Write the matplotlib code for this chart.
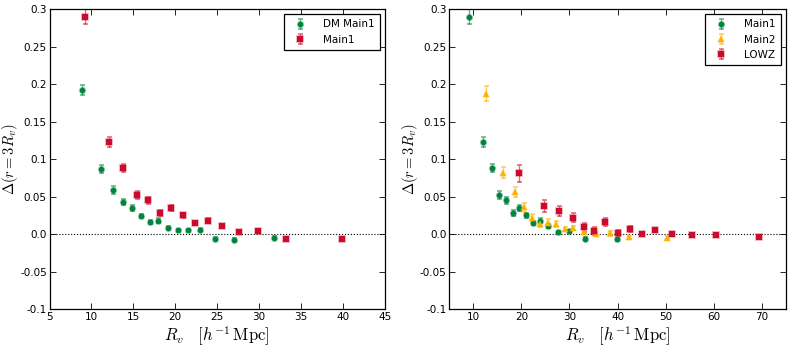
import numpy as np
import matplotlib.pyplot as plt
import matplotlib.colors as mc
from matplotlib.ticker import FixedLocator, FixedFormatter

plt.rcParams["mathtext.fontset"] = "cm"
plt.rcParams["xtick.direction"] = "in"
plt.rcParams["ytick.direction"] = "in"
plt.rcParams["xtick.top"] = True
plt.rcParams["ytick.right"] = True

GREEN = "#00843d"
RED = "#cc0a2c"
ORANGE = "#ffb000"

# left panel: DM Main1
dm_x = [8.9, 11.2, 12.6, 13.8, 14.9, 15.9, 17.0, 18.0, 19.1, 20.3, 21.5, 23.0, 24.8, 27.0, 31.8]
dm_y = [0.192, 0.087, 0.059, 0.043, 0.035, 0.024, 0.016, 0.018, 0.0085, 0.005, 0.005, 0.006, -0.0058, -0.0076, -0.0049]
dm_e = [0.007, 0.005, 0.005, 0.004, 0.004, 0.003, 0.003, 0.003, 0.002, 0.002, 0.002, 0.002, 0.002, 0.002, 0.002]

# Main1 (both panels)
m1_x = [9.2, 12.1, 13.8, 15.4, 16.8, 18.2, 19.5, 20.9, 22.4, 23.9, 25.6, 27.6, 29.9, 33.2, 39.9]
m1_y = [0.290, 0.123, 0.088, 0.052, 0.045, 0.028, 0.035, 0.025, 0.015, 0.018, 0.011, 0.0027, 0.004, -0.0058, -0.0067]
m1_e = [0.010, 0.007, 0.005, 0.005, 0.005, 0.004, 0.004, 0.003, 0.003, 0.003, 0.003, 0.002, 0.002, 0.002, 0.002]

# right panel: Main2
m2_x = [12.7, 16.2, 18.7, 20.5, 22.2, 23.8, 25.5, 27.3, 29.0, 30.8, 33.0, 35.6, 38.5, 42.4, 50.2]
m2_y = [0.187, 0.082, 0.056, 0.036, 0.022, 0.013, 0.015, 0.014, 0.007, 0.008, 0.0036, 0.0004, 0.001, -0.004, -0.0045]
m2_e = [0.010, 0.007, 0.007, 0.006, 0.005, 0.004, 0.005, 0.004, 0.003, 0.003, 0.003, 0.003, 0.003, 0.002, 0.002]

# right panel: LOWZ
lz_x = [19.5, 24.8, 27.8, 30.7, 33.0, 35.2, 37.5, 40.1, 42.6, 45.2, 47.9, 51.4, 55.5, 60.5, 69.5]
lz_y = [0.081, 0.038, 0.031, 0.022, 0.009, 0.0045, 0.0165, 0.001, 0.007, 0.0004, 0.0058, 0.0004, -0.001, -0.0004, -0.004]
lz_e = [0.011, 0.008, 0.007, 0.006, 0.006, 0.005, 0.005, 0.004, 0.004, 0.003, 0.003, 0.003, 0.002, 0.002, 0.002]

yticks = [-0.1, -0.05, 0.0, 0.05, 0.1, 0.15, 0.2, 0.25, 0.3]
ylabels = ["-0.1", "-0.05", "0.0", "0.05", "0.1", "0.15", "0.2", "0.25", "0.3"]


def light(c, a=0.55):
    r, g, b = mc.to_rgb(c)
    return (r, g, b, a)


def draw(ax, x, y, e, clr, mk, lab, ms=4):
    ax.errorbar(x, y, yerr=e, fmt=mk, color=clr, ms=ms, mec=light(clr, 0.35), mew=1.2,
                ecolor=light(clr, 0.6), elinewidth=1.0, capsize=1.8, label=lab)


def style(ax, xlim, xticks):
    ax.axhline(0, color="k", ls=":", lw=0.8)
    ax.set_xlim(xlim)
    ax.set_ylim(-0.1, 0.3)
    ax.xaxis.set_major_locator(FixedLocator(xticks))
    ax.yaxis.set_major_locator(FixedLocator(yticks))
    ax.yaxis.set_major_formatter(FixedFormatter(ylabels))
    ax.tick_params(labelsize=7.5, length=4, width=0.6, pad=2)
    for s in ax.spines.values():
        s.set_linewidth(0.9)
    ax.set_xlabel(r"$R_v\quad[h^{-1}\,\mathrm{Mpc}]$", fontsize=12, labelpad=2)
    ax.set_ylabel(r"$\Delta(r=3R_v)$", fontsize=10.5)
    ax.yaxis.set_label_coords(-0.088, 0.5)
    leg = ax.legend(loc="upper right", numpoints=1, fontsize=7.5, fancybox=False,
                    framealpha=1, edgecolor="k", handletextpad=1.2, borderpad=0.5,
                    labelspacing=0.5)
    leg.get_frame().set_linewidth(0.9)


fig = plt.figure(figsize=[7.9, 3.47], dpi=100)
ax1 = fig.add_axes([0.0627, 0.1086, 0.4243, 0.8654])
ax2 = fig.add_axes([0.5687, 0.1086, 0.4259, 0.8654])

draw(ax1, dm_x, dm_y, dm_e, GREEN, "o", "DM Main1")
draw(ax1, m1_x, m1_y, m1_e, RED, "s", "Main1")
style(ax1, (5, 45), [5, 10, 15, 20, 25, 30, 35, 40, 45])

draw(ax2, m1_x, m1_y, m1_e, GREEN, "o", "Main1")
draw(ax2, m2_x, m2_y, m2_e, ORANGE, "^", "Main2", ms=4.5)
draw(ax2, lz_x, lz_y, lz_e, RED, "s", "LOWZ")
style(ax2, (5, 75), [10, 20, 30, 40, 50, 60, 70])

fig.savefig("out.png", dpi=100)
